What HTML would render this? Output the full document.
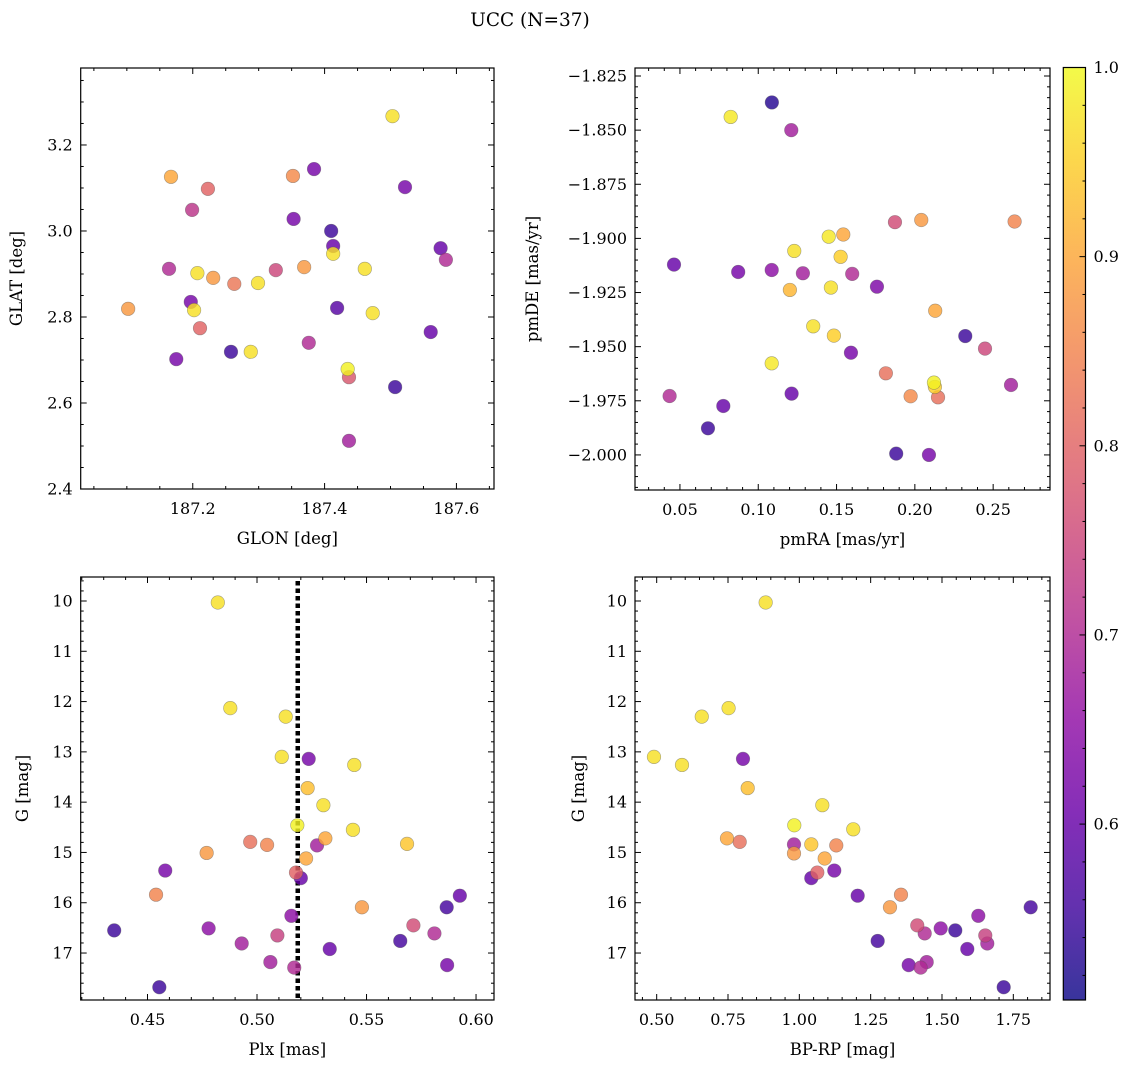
<!DOCTYPE html>
<html><head><meta charset="utf-8"><style>
html,body{margin:0;padding:0;background:#fff;}
svg{display:block;font-family:"DejaVu Serif","Liberation Serif",serif;}
</style></head><body>
<svg id="fig" width="1136" height="1067" viewBox="0 0 1136 1067" xmlns="http://www.w3.org/2000/svg">
<defs>
<linearGradient id="plasma" x1="0" y1="1" x2="0" y2="0"></linearGradient>
</defs>
<text x="530" y="26" font-size="18.5" text-anchor="middle">UCC (N=37)</text>
</svg>
<script>
// ---- Data ----
const p1Glon = [187.503,187.167,187.223,187.352,187.384,187.522,187.199,187.353,187.410,187.413,187.576,187.584,187.164,187.207,187.231,187.263,187.299,187.326,187.369,187.461,187.102,187.197,187.202,187.211,187.419,187.473,187.561,187.175,187.258,187.288,187.376,187.435,187.437,187.507,187.437];
const p1Glat = [3.267,3.126,3.098,3.128,3.144,3.102,3.049,3.028,3.000,2.965,2.960,2.933,2.912,2.902,2.891,2.877,2.879,2.909,2.916,2.912,2.819,2.835,2.816,2.774,2.821,2.809,2.765,2.702,2.719,2.719,2.740,2.679,2.660,2.637,2.512];
const p1Prob = [0.97,0.9,0.8,0.86,0.62,0.62,0.72,0.62,0.55,0.6,0.6,0.7,0.7,0.97,0.88,0.83,0.97,0.75,0.88,0.97,0.88,0.62,0.97,0.8,0.58,0.97,0.6,0.62,0.55,0.97,0.7,0.99,0.78,0.55,0.68];
const p1Extra = [[187.413,2.947,0.97]];

const p2Pmra = [0.1087,0.0824,0.1211,0.1873,0.2041,0.2637,0.145,0.1543,0.123,0.1526,0.0462,0.0872,0.1086,0.1285,0.16,0.1758,0.1202,0.1464,0.213,0.1351,0.1483,0.2322,0.2448,0.1592,0.1086,0.1815,0.2122,0.2128,0.2614,0.0434,0.1213,0.1973,0.2148,0.0777,0.0679,0.1881,0.209];
const p2Pmde = [-1.8372,-1.8439,-1.850,-1.8925,-1.8915,-1.8922,-1.8992,-1.8982,-1.9058,-1.9085,-1.9121,-1.9155,-1.9146,-1.9161,-1.9164,-1.9223,-1.9238,-1.9227,-1.9334,-1.9406,-1.9449,-1.9451,-1.9509,-1.9528,-1.9577,-1.9623,-1.9666,-1.9686,-1.9677,-1.9728,-1.9717,-1.9729,-1.9734,-1.9774,-1.9877,-1.9994,-2.0000];
const p2Prob = [0.53,0.98,0.68,0.76,0.88,0.85,0.98,0.9,0.97,0.95,0.6,0.62,0.65,0.68,0.7,0.63,0.92,0.97,0.9,0.97,0.95,0.55,0.75,0.62,0.98,0.82,0.99,0.95,0.68,0.7,0.6,0.86,0.82,0.6,0.55,0.55,0.62];

const p3Plx = [0.4821,0.4878,0.5131,0.5113,0.5236,0.5444,0.5231,0.5303,0.5184,0.5438,0.4969,0.5046,0.5312,0.5274,0.5685,0.477,0.5224,0.5178,0.52,0.4581,0.4539,0.5926,0.5866,0.5479,0.5157,0.4348,0.4779,0.5714,0.581,0.5093,0.493,0.5654,0.5332,0.5061,0.517,0.5868,0.4554];
const p3G   = [10.03,12.13,12.30,13.10,13.14,13.26,13.72,14.06,14.46,14.55,14.79,14.85,14.72,14.86,14.83,15.01,15.12,15.40,15.51,15.36,15.84,15.86,16.09,16.09,16.26,16.55,16.51,16.45,16.61,16.65,16.81,16.76,16.92,17.18,17.29,17.24,17.68];
const p3Prob = [0.97,0.97,0.97,0.97,0.62,0.97,0.93,0.97,0.99,0.97,0.82,0.85,0.9,0.68,0.94,0.88,0.9,0.8,0.6,0.62,0.85,0.6,0.56,0.88,0.65,0.55,0.65,0.76,0.7,0.74,0.68,0.56,0.6,0.68,0.7,0.62,0.55];
const plxMedian = 0.5186;

const p4Bprp = [0.882,0.752,0.658,0.4905,0.8025,0.5887,0.819,1.0805,0.9823,1.189,0.7464,0.791,0.9813,1.0419,1.1295,0.9813,1.0889,1.063,1.0419,1.1225,1.2045,1.3563,1.3177,1.8109,1.6273,1.4134,1.4955,1.5466,1.4394,1.6518,1.6588,1.2746,1.5887,1.4464,1.4253,1.3833,1.7163];
const p4G   = [10.03,12.13,12.30,13.10,13.14,13.26,13.72,14.06,14.46,14.54,14.72,14.79,14.84,14.84,14.86,15.02,15.12,15.40,15.51,15.36,15.86,15.84,16.09,16.09,16.26,16.45,16.51,16.55,16.61,16.65,16.81,16.76,16.92,17.18,17.29,17.24,17.68];
const p4Prob = [0.97,0.97,0.97,0.97,0.62,0.97,0.93,0.97,0.99,0.97,0.9,0.82,0.68,0.94,0.85,0.88,0.9,0.8,0.6,0.62,0.6,0.85,0.88,0.56,0.65,0.76,0.65,0.55,0.7,0.74,0.68,0.56,0.6,0.68,0.7,0.62,0.55];

const cbMin = 0.507, cbMax = 1.0;
const cbTicks = [0.6,0.7,0.8,0.9,1.0];

// ---- Helpers ----
const NS = "http://www.w3.org/2000/svg";
const svg = document.getElementById('fig');
function mk(tag, attrs, parent){ const e=document.createElementNS(NS,tag); for(const k in attrs) e.setAttribute(k,attrs[k]); (parent||svg).appendChild(e); return e; }
const stops=[[0,13,8,135],[0.1,65,4,157],[0.2,106,0,168],[0.3,143,13,164],[0.4,177,42,144],[0.5,204,71,120],[0.6,225,100,98],[0.7,242,132,75],[0.8,252,166,54],[0.9,252,206,37],[1,240,249,33]];
function plasma(t){ t=Math.max(0,Math.min(1,t)); for(let i=1;i<stops.length;i++){ if(t<=stops[i][0]){ const a=stops[i-1],b=stops[i],f=(t-a[0])/(b[0]-a[0]); return `rgb(${Math.round(a[1]+f*(b[1]-a[1]))},${Math.round(a[2]+f*(b[2]-a[2]))},${Math.round(a[3]+f*(b[3]-a[3]))})`; } } return 'rgb(240,249,33)'; }
function cnorm(v){ return (v-cbMin)/(cbMax-cbMin); }
function fmt(v,d){ const s=Math.abs(v).toFixed(d); return (v<-1e-9?'\u2212':'')+s; }

function panel(cfg){
  const g=mk('g',{});
  
  
  const {x0,x1,y0,y1}=cfg;
  const sx=v=>x0+(v-cfg.xmin)/(cfg.xmax-cfg.xmin)*(x1-x0);
  const sy=cfg.yinv? (v=>y0+(v-cfg.ymin)/(cfg.ymax-cfg.ymin)*(y1-y0)) : (v=>y1-(v-cfg.ymin)/(cfg.ymax-cfg.ymin)*(y1-y0));
  const tg=mk('g',{stroke:'#000','stroke-width':1},g);
  const xlo=Math.min(cfg.xmin,cfg.xmax), xhi=Math.max(cfg.xmin,cfg.xmax);
  for(let k=Math.ceil(xlo/cfg.xminor-1e-6);k*cfg.xminor<=xhi+1e-9;k++){ const v=k*cfg.xminor, px=sx(v); if(px<x0+0.5||px>x1-0.5) continue;
    const major=Math.abs(v/cfg.xmajor-Math.round(v/cfg.xmajor))<1e-6; const L=major?6:3;
    mk('line',{x1:px,x2:px,y1:y1,y2:y1-L},tg); mk('line',{x1:px,x2:px,y1:y0,y2:y0+L},tg); }
  const ylo=Math.min(cfg.ymin,cfg.ymax), yhi=Math.max(cfg.ymin,cfg.ymax);
  for(let k=Math.ceil(ylo/cfg.yminor-1e-6);k*cfg.yminor<=yhi+1e-9;k++){ const v=k*cfg.yminor, py=sy(v); if(py<y0+0.5||py>y1-0.5) continue;
    const major=Math.abs(v/cfg.ymajor-Math.round(v/cfg.ymajor))<1e-6; const L=major?6:3;
    mk('line',{x1:x0,x2:x0+L,y1:py,y2:py},tg); mk('line',{x1:x1,x2:x1-L,y1:py,y2:py},tg); }
  cfg.xticks.forEach(v=>{ const t=mk('text',{x:sx(v),y:y1+25,'font-size':16,'text-anchor':'middle'},g); t.textContent=fmt(v,cfg.xdec);
    
     });
  cfg.yticks.forEach(v=>{ const t=mk('text',{x:x0-8,y:sy(v)+5.5,'font-size':16,'text-anchor':'end'},g); t.textContent=fmt(v,cfg.ydec);
    
     });
  const xl=mk('text',{x:(x0+x1)/2,y:y1+55,'font-size':16.5,'text-anchor':'middle'},g); xl.textContent=cfg.xlabel;
  
  
  const yx=cfg.ylabx, yy=(y0+y1)/2;
  const yl=mk('text',{x:yx,y:yy,'font-size':16.5,'text-anchor':'middle',transform:`rotate(-90 ${yx} ${yy})`},g); yl.textContent=cfg.ylabel;
  
  
  if(cfg.vline!==undefined){ const l=mk('line',{x1:sx(cfg.vline),x2:sx(cfg.vline),y1:y0+4,y2:y1,stroke:'#000','stroke-width':4.5,'stroke-dasharray':'4.5 3'},g);
    
     }
  const idx=cfg.xs.map((_,i)=>i).sort((a,b)=>cfg.cs[a]-cfg.cs[b]);
  idx.forEach(i=>{ const c=mk('circle',{cx:sx(cfg.xs[i]),cy:sy(cfg.ys[i]),r:6.8,fill:plasma(cnorm(cfg.cs[i])),'fill-opacity':0.82,stroke:'#555','stroke-opacity':0.5,'stroke-width':0.6},g);
    
     });
  const fr=mk('rect',{x:x0,y:y0,width:x1-x0,height:y1-y0,fill:'none',stroke:'#000','stroke-width':1.2},g);
  
  
}

const p1x=p1Glon.concat(p1Extra.map(e=>e[0])), p1y=p1Glat.concat(p1Extra.map(e=>e[1])), p1c=p1Prob.concat(p1Extra.map(e=>e[2]));
panel({name:'glon-glat-panel',x0:80.7,x1:494,y0:68,y1:489,xmin:187.030,xmax:187.657,ymin:2.4,ymax:3.379,xmajor:0.2,xminor:0.05,ymajor:0.2,yminor:0.05,
  xticks:[187.2,187.4,187.6],yticks:[2.4,2.6,2.8,3.0,3.2],xdec:1,ydec:1,xlabel:'GLON [deg]',ylabel:'GLAT [deg]',ylabx:22,xs:p1x,ys:p1y,cs:p1c});
panel({name:'pm-panel',x0:635,x1:1050,y0:68,y1:490,xmin:0.0213,xmax:0.2863,ymin:-2.0162,ymax:-1.8213,xmajor:0.05,xminor:0.01,ymajor:0.025,yminor:0.005,
  xticks:[0.05,0.10,0.15,0.20,0.25],yticks:[-2.0,-1.975,-1.95,-1.925,-1.9,-1.875,-1.85,-1.825],xdec:2,ydec:3,xlabel:'pmRA [mas/yr]',ylabel:'pmDE [mas/yr]',ylabx:538,xs:p2Pmra,ys:p2Pmde,cs:p2Prob});
panel({name:'plx-g-panel',x0:80.7,x1:494,y0:577,y1:1000,xmin:0.4195,xmax:0.6082,ymin:9.523,ymax:17.934,yinv:true,xmajor:0.05,xminor:0.01,ymajor:1,yminor:0.2,
  xticks:[0.45,0.50,0.55,0.60],yticks:[10,11,12,13,14,15,16,17],xdec:2,ydec:0,xlabel:'Plx [mas]',ylabel:'G [mag]',ylabx:28,xs:p3Plx,ys:p3G,cs:p3Prob,vline:plxMedian});
panel({name:'cmd-panel',x0:635,x1:1050,y0:577,y1:1000,xmin:0.424,xmax:1.8786,ymin:9.523,ymax:17.934,yinv:true,xmajor:0.25,xminor:0.05,ymajor:1,yminor:0.2,
  xticks:[0.5,0.75,1.0,1.25,1.5,1.75],yticks:[10,11,12,13,14,15,16,17],xdec:2,ydec:0,xlabel:'BP-RP [mag]',ylabel:'G [mag]',ylabx:584,xs:p4Bprp,ys:p4G,cs:p4Prob});

const grad=document.getElementById('plasma');
for(let i=0;i<=20;i++){ const v=cbMin+(cbMax-cbMin)*i/20; mk('stop',{offset:(i/20),'stop-color':plasma(cnorm(v)),'stop-opacity':0.82},grad); }
const cbg=mk('g',{});


const cx0=1063.3,cx1=1085.5,cy0=67.5,cy1=1000;
const cy=v=>cy1-(v-cbMin)/(cbMax-cbMin)*(cy1-cy0);
mk('rect',{x:cx0,y:cy0,width:cx1-cx0,height:cy1-cy0,fill:'url(#plasma)',stroke:'#000','stroke-width':1.2},cbg);
for(let k=Math.ceil(cbMin/0.02);k*0.02<=cbMax+1e-9;k++){ const v=k*0.02; const py=cy(v); if(py<cy0+0.5) continue;
  const major=Math.abs(v*10-Math.round(v*10))<1e-6; mk('line',{x1:cx1,x2:cx1-(major?6:3),y1:py,y2:py,stroke:'#000','stroke-width':1},cbg); }
cbTicks.forEach(v=>{ const t=mk('text',{x:cx1+8,y:cy(v)+5.5,'font-size':16},cbg); t.textContent=v.toFixed(1);
  
   });
</script>
</body></html>
